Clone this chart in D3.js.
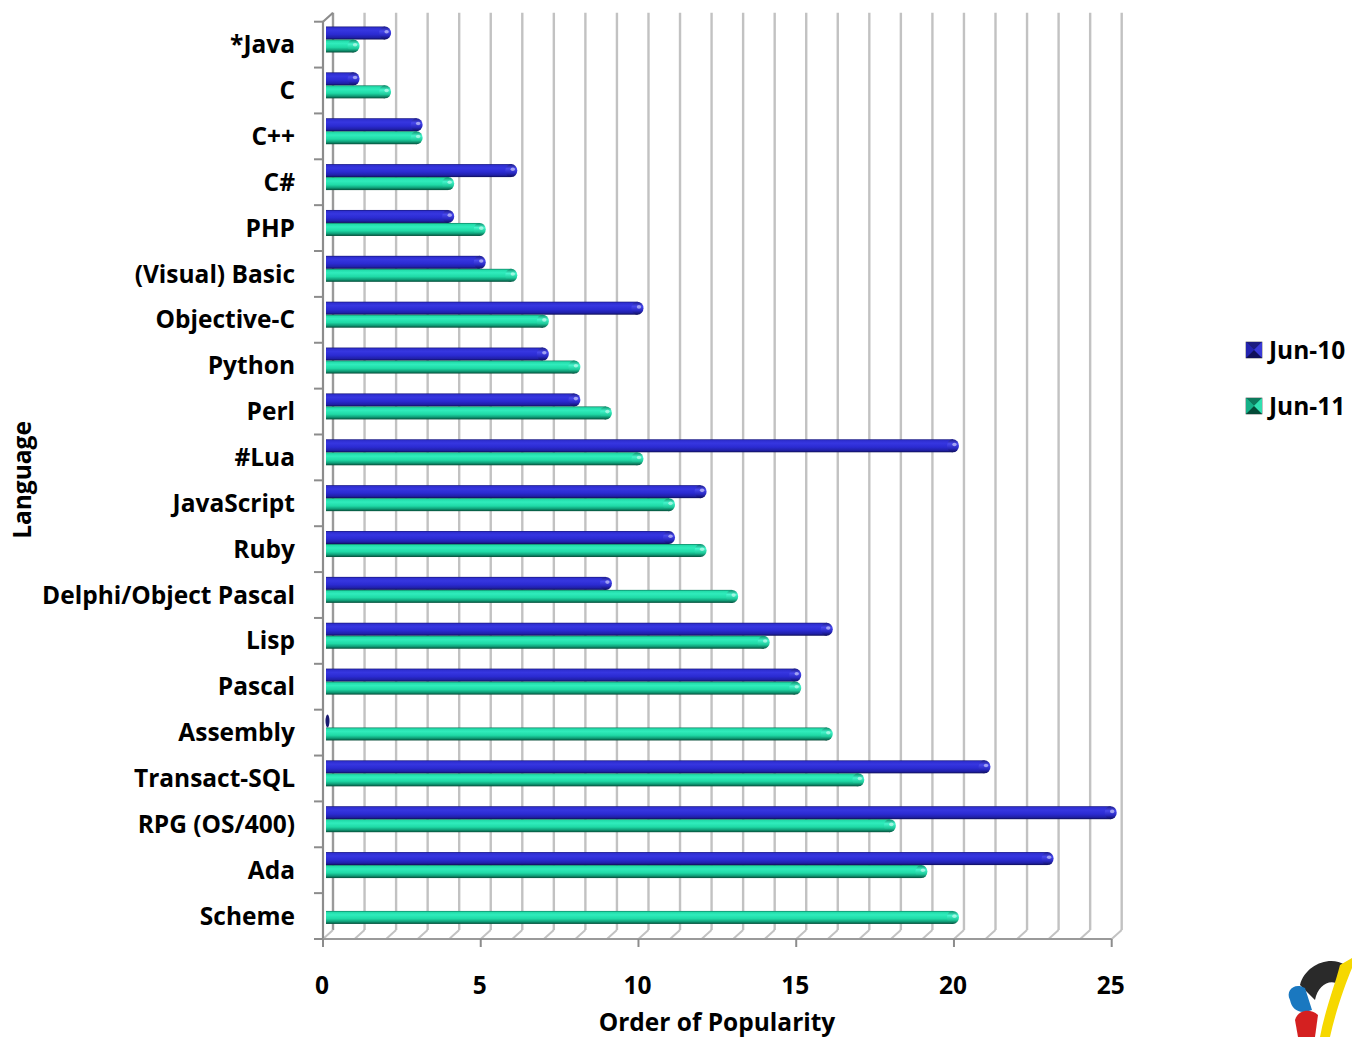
<!DOCTYPE html>
<html><head><meta charset="utf-8">
<script src="https://cdn.jsdelivr.net/npm/d3@7/dist/d3.min.js"></script>
<style>body{margin:0;background:#fff}svg{display:block}text{font-family:"Open Sans",Lato,sans-serif;font-weight:700;fill:#000}</style>
</head><body><svg id="c" width="1352" height="1037"></svg>
<script>
const categories = ["*Java","C","C++","C#","PHP","(Visual) Basic","Objective-C","Python","Perl","#Lua","JavaScript","Ruby","Delphi/Object Pascal","Lisp","Pascal","Assembly","Transact-SQL","RPG (OS/400)","Ada","Scheme"];
const jun10 = [2,1,3,6,4,5,10,7,8,20,12,11,9,16,15,0,21,25,23,null];
const jun11 = [1,2,3,4,5,6,7,8,9,10,11,12,13,14,15,16,17,18,19,20];
const seriesNames = ["Jun-10","Jun-11"];
const xTicks = [0,5,10,15,20,25];

const svg = d3.select("#c");
const defs = svg.append("defs");
const DX = 10, DY = -9;
const x = d3.scaleLinear().domain([0,25]).range([323,1111.7]);
const y = d3.scaleBand().domain(categories).range([21.7,939]).padding(0);
const xMid = v => x(v) + DX/2;

const probe = svg.append("text").attr("font-size",100).text("Delphi/Object Pascal");
const FS = Math.min(25, 100*253/probe.node().getComputedTextLength());
probe.remove();

function grad(id, stops){
  const g = defs.append("linearGradient").attr("id",id).attr("x1",0).attr("y1",0).attr("x2",0).attr("y2",1);
  stops.forEach(s=>g.append("stop").attr("offset",s[0]).attr("stop-color",s[1]));
}
grad("gBlue",[[0,"#16167a"],[0.1,"#2e2ed0"],[0.3,"#3636e0"],[0.6,"#2b2bd2"],[0.85,"#2020a8"],[1,"#0e0e58"]]);
grad("gTeal",[[0,"#0a7a5c"],[0.1,"#22dcaa"],[0.3,"#30ecbc"],[0.6,"#1fdaa6"],[0.82,"#0f9e78"],[1,"#054c38"]]);
grad("gBlueCap",[[0,"#1a1a88"],[0.35,"#4848ee"],[0.7,"#2828c0"],[1,"#0e0e5c"]]);
grad("gTealCap",[[0,"#0a8a68"],[0.35,"#44f6cc"],[0.7,"#1cc898"],[1,"#055240"]]);

const g = svg.append("g");
const yBackTop = 21.7 + DY, yBackBot = 939 + DY;
d3.range(0,26).forEach(v=>{
  g.append("line").attr("x1",x(v)+DX).attr("x2",x(v)+DX).attr("y1",yBackTop).attr("y2",yBackBot)
    .attr("stroke", v===0 ? "#9a9a9a" : "#c2c2c2").attr("stroke-width",2.4);
  g.append("line").attr("x1",x(v)).attr("y1",939).attr("x2",x(v)+DX).attr("y2",yBackBot)
    .attr("stroke","#c2c2c2").attr("stroke-width",2);
});
g.append("line").attr("x1",x(0)).attr("x2",x(0)).attr("y1",21.7).attr("y2",939).attr("stroke","#8c8c8c").attr("stroke-width",2.2);
g.append("line").attr("x1",x(0)).attr("y1",21.7).attr("x2",x(0)+DX).attr("y2",yBackTop).attr("stroke","#8c8c8c").attr("stroke-width",2.2);
g.append("line").attr("x1",x(0)).attr("x2",x(25)).attr("y1",939).attr("y2",939).attr("stroke","#9a9a9a").attr("stroke-width",2.2);
categories.concat([null]).forEach((c,i)=>{
  const yy = 21.7 + i*y.bandwidth();
  g.append("line").attr("x1",314).attr("x2",x(0)).attr("y1",yy).attr("y2",yy).attr("stroke","#8c8c8c").attr("stroke-width",2);
});
xTicks.forEach(t=>{
  g.append("line").attr("x1",x(t)).attr("x2",x(t)).attr("y1",939).attr("y2",947).attr("stroke","#8c8c8c").attr("stroke-width",2);
  svg.append("text").attr("x",x(t)-1).attr("y",985).attr("dy","0.35em").attr("text-anchor","middle").attr("font-size",FS).text(t);
});

const barH = 13;
function drawBar(val, yTop, fill, capFill, dark){
  if(val===null) return;
  const x0 = 326, x1 = xMid(val);
  const r = 6;
  const bg = svg.append("g");
  if(x1 - r > x0){
    bg.append("rect").attr("x",x0).attr("y",yTop).attr("width",x1-r-x0).attr("height",barH).attr("fill",`url(#${fill})`);
  }
  bg.append("ellipse").attr("cx",Math.max(x1-r,x0+1.5)).attr("cy",yTop+barH/2).attr("rx", val===0?2:r).attr("ry",barH/2)
    .attr("fill", val===0 ? dark : `url(#${capFill})`);
  if(val>0){
    bg.append("ellipse").attr("cx",x1-r+1.5).attr("cy",yTop+barH*0.4).attr("rx",2.2).attr("ry",1.8).attr("fill","#fff").attr("opacity",0.5);
  }
}
categories.forEach((c,i)=>{
  const top = y(c);
  drawBar(jun10[i], top+4.8, "gBlue","gBlueCap","#1a1a70");
  drawBar(jun11[i], top+17.8, "gTeal","gTealCap","#0a6a50");
});

categories.forEach(c=>{
  svg.append("text").attr("x",295).attr("y",y(c)+y.bandwidth()/2).attr("dy","0.35em").attr("text-anchor","end").attr("font-size",FS).text(c);
});

svg.append("text").attr("x",717).attr("y",1022).attr("dy","0.35em").attr("text-anchor","middle").attr("font-size",FS).text("Order of Popularity");
svg.append("text").attr("transform","translate(22,480) rotate(-90)").attr("dy","0.35em").attr("text-anchor","middle").attr("font-size",FS).text("Language");

const lg = svg.append("g");
seriesNames.forEach((s,i)=>{
  const ly = 350 + i*56;
  const sx = 1246, sy = ly-8, sz = 16;
  const cols = i===0 ? ["#1c1c80","#3a3ad8","#2424b0","#10105a","#2a2ac4"] : ["#0c7a5c","#30e0b0","#16b088","#054a38","#1cc898"];
  const cx = sx+sz/2, cy = sy+sz/2;
  lg.append("rect").attr("x",sx).attr("y",sy).attr("width",sz).attr("height",sz).attr("fill",cols[4]).attr("stroke","#333").attr("stroke-width",0.6);
  lg.append("path").attr("d",`M${sx},${sy}L${sx+sz},${sy}L${cx},${cy}Z`).attr("fill",cols[0]);
  lg.append("path").attr("d",`M${sx},${sy}L${sx},${sy+sz}L${cx},${cy}Z`).attr("fill",cols[2]);
  lg.append("path").attr("d",`M${sx+sz},${sy}L${sx+sz},${sy+sz}L${cx},${cy}Z`).attr("fill",cols[1]);
  lg.append("path").attr("d",`M${sx},${sy+sz}L${sx+sz},${sy+sz}L${cx},${cy}Z`).attr("fill",cols[3]);
  lg.append("text").attr("x",1269).attr("y",ly).attr("dy","0.35em").attr("font-size",FS).text(s);
});

const logo = svg.append("g");
logo.append("path").attr("d","M1300,985 C1305,965 1330,955 1345,965 L1340,985 C1330,978 1318,985 1315,1000 Z").attr("fill","#2a2a2a");
logo.append("path").attr("d","M1290,1000 C1285,990 1295,982 1305,988 L1312,1010 C1300,1015 1292,1010 1290,1000 Z").attr("fill","#1a78c0");
logo.append("path").attr("d","M1295,1020 C1298,1010 1310,1008 1318,1015 L1315,1037 L1298,1037 Z").attr("fill","#d42020");
logo.append("path").attr("d","M1340,965 C1335,985 1325,1010 1320,1037 L1330,1037 C1336,1010 1345,985 1352,968 L1352,958 Z").attr("fill","#f6d800");
</script></body></html>
